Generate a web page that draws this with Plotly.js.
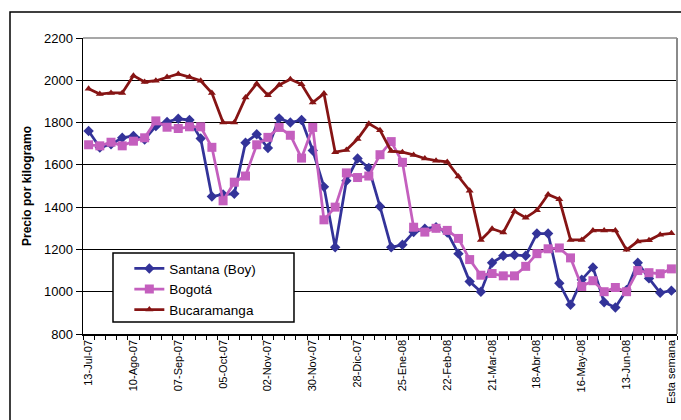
<!DOCTYPE html>
<html>
<head>
<meta charset="utf-8">
<script src="https://cdn.plot.ly/plotly-3.0.1.min.js"></script>
<style>
  html, body { margin: 0; padding: 0; background: #fff; }
  #chart { width: 681px; height: 420px; }
</style>
</head>
<body>
<div id="chart"></div>
<script>
// Weekly categories (labels shown every 4th)
const categories = [
  "13-Jul-07","20-Jul-07","27-Jul-07","03-Ago-07","10-Ago-07","17-Ago-07","24-Ago-07","31-Ago-07",
  "07-Sep-07","14-Sep-07","21-Sep-07","28-Sep-07","05-Oct-07","12-Oct-07","19-Oct-07","26-Oct-07",
  "02-Nov-07","09-Nov-07","16-Nov-07","23-Nov-07","30-Nov-07","07-Dic-07","14-Dic-07","21-Dic-07",
  "28-Dic-07","04-Ene-08","11-Ene-08","18-Ene-08","25-Ene-08","01-Feb-08","08-Feb-08","15-Feb-08",
  "22-Feb-08","29-Feb-08","07-Mar-08","14-Mar-08","21-Mar-08","28-Mar-08","04-Abr-08","11-Abr-08",
  "18-Abr-08","25-Abr-08","02-May-08","09-May-08","16-May-08","23-May-08","30-May-08","06-Jun-08",
  "13-Jun-08","20-Jun-08","27-Jun-08","04-Jul-08","Esta semana"
];

const santana = [
  1760,1682,1697,1728,1737,1720,1783,1803,1818,1812,1725,1450,1460,1463,1705,1745,
  1680,1820,1800,1812,1668,1496,1210,1525,1630,1585,1403,1210,1222,1282,1298,1305,
  1280,1180,1048,1000,1137,1170,1174,1170,1275,1275,1040,938,1057,1115,950,925,
  1008,1137,1063,995,1005
];

const bogota = [
  1695,1690,1707,1690,1712,1728,1808,1778,1772,1780,1780,1683,1430,1518,1547,1695,
  1730,1777,1740,1632,1777,1340,1400,1562,1540,1547,1648,1710,1612,1305,1282,1300,
  1290,1252,1152,1078,1086,1075,1075,1120,1180,1203,1207,1160,1025,1052,1000,1020,
  1000,1100,1090,1085,1108
];

const bucaramanga = [
  1960,1935,1940,1940,2022,1992,1998,2015,2030,2015,1998,1940,1800,1800,1918,1984,
  1929,1978,2005,1981,1895,1937,1660,1670,1722,1795,1764,1665,1660,1647,1630,1620,
  1614,1545,1478,1245,1298,1280,1380,1350,1385,1460,1437,1245,1245,1290,1290,1290,
  1198,1238,1243,1270,1276
];

const seriesNames = ["Santana (Boy)", "Bogotá", "Bucaramanga"];
const yTicks = [800,1000,1200,1400,1600,1800,2000,2200];

const xIdx = categories.map((c, i) => i);
const labelIdx = xIdx.filter(i => i % 4 === 0);
const labelText = labelIdx.map(i => categories[i]);

const FONT = "Liberation Sans, Arial, sans-serif";

const traces = [
  {
    x: xIdx, y: santana, name: seriesNames[0], type: "scatter", mode: "lines+markers",
    line: { color: "#333399", width: 2.75 },
    marker: { symbol: "diamond", size: 8, color: "#333399" }
  },
  {
    x: xIdx, y: bogota, name: seriesNames[1], type: "scatter", mode: "lines+markers",
    line: { color: "#C45FBE", width: 2.75 },
    marker: { symbol: "square", size: 9, color: "#C45FBE" }
  },
  {
    x: xIdx, y: bucaramanga, name: seriesNames[2], type: "scatter", mode: "lines+markers",
    line: { color: "#861414", width: 2.75 },
    marker: { symbol: "triangle-up", size: 7, color: "#861414" }
  }
];

const layout = {
  width: 681, height: 420,
  margin: { l: 83, r: 4, t: 38, b: 86, pad: 0 },
  paper_bgcolor: "#ffffff",
  plot_bgcolor: "#ffffff",
  font: { family: FONT, color: "#000" },
  showlegend: true,
  legend: {
    x: 0.078, y: 0.273, xanchor: "left", yanchor: "top",
    bgcolor: "rgba(0,0,0,0)", borderwidth: 0,
    font: { family: FONT, size: 13.5, color: "#000" },
    tracegroupgap: 0
  },
  xaxis: {
    range: [-0.5, categories.length - 0.5],
    tickmode: "array", tickvals: labelIdx, ticktext: labelText,
    tickangle: -90, tickfont: { family: FONT, size: 11, color: "#000" },
    ticks: "", showgrid: false, zeroline: false,
    showline: true, linecolor: "#000", linewidth: 1.5,
    minor: { ticks: "outside", ticklen: 4, tickcolor: "#000", tickwidth: 1, tick0: -0.5, dtick: 1, showgrid: false },
    fixedrange: true
  },
  yaxis: {
    range: [800, 2200],
    tickmode: "array", tickvals: yTicks,
    tickfont: { family: FONT, size: 13, color: "#000" },
    ticks: "outside", ticklen: 6, tickcolor: "#000", tickwidth: 1,
    showgrid: true, gridcolor: "#000", gridwidth: 1,
    zeroline: false, showline: true, linecolor: "#000", linewidth: 1.5,
    title: { text: "<b>Precio por kilogramo</b>", font: { family: FONT, size: 12, color: "#000" }, standoff: 10 },
    fixedrange: true
  },
  shapes: [
    // outer chart frame
    { type: "rect", xref: "paper", yref: "paper", x0: -0.1229, x1: 1.05, y0: -0.35, y1: 1.0878,
      line: { color: "#000", width: 1.5 }, fillcolor: "rgba(0,0,0,0)", layer: "below" },
    // plot area top and right edges (grey)
    { type: "line", xref: "paper", yref: "paper", x0: 0, x1: 1, y0: 1, y1: 1,
      line: { color: "#8a8a8a", width: 1.5 }, layer: "above" },
    { type: "line", xref: "paper", yref: "paper", x0: 1, x1: 1, y0: 0, y1: 1,
      line: { color: "#8a8a8a", width: 2 }, layer: "above" },
    // legend box
    { type: "rect", xref: "paper", yref: "paper", x0: 0.0505, x1: 0.3552, y0: 0.0405, y1: 0.2736,
      line: { color: "#000", width: 1.5 }, fillcolor: "#ffffff", layer: "above" }
  ]
};

Plotly.newPlot("chart", traces, layout, { displayModeBar: false, staticPlot: true });
</script>
</body>
</html>
